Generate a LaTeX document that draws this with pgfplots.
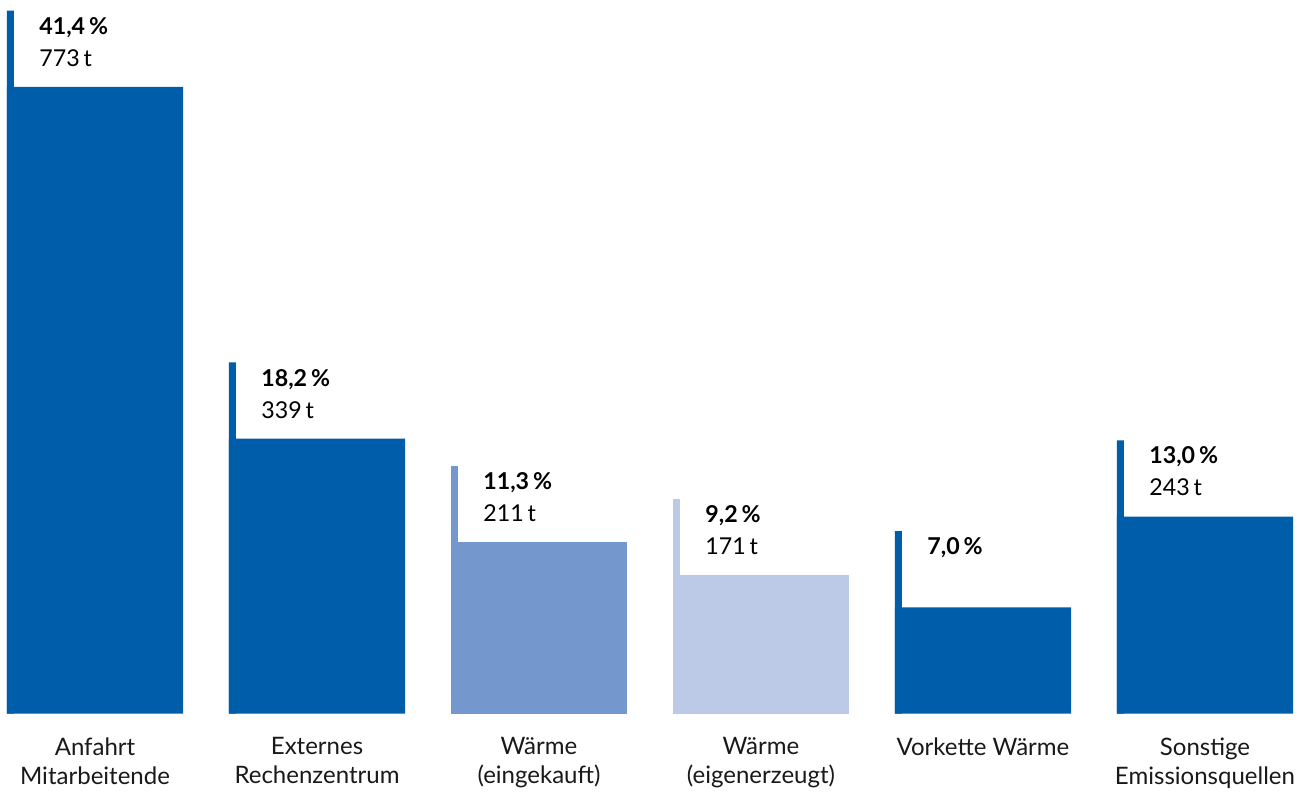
\documentclass[border=0pt]{standalone}
\usepackage{pgfplots}
\pgfplotsset{compat=1.18}
\usepackage{fontspec}
\setmainfont{Lato}
\definecolor{dblue}{HTML}{005DA9}
\definecolor{mblue}{HTML}{7497CE}
\definecolor{lblue}{HTML}{BCC9E7}
\begin{document}
\begin{tikzpicture}
\begin{axis}[
  name=ax,
  scale only axis,
  width=642.5pt, height=356.5pt,
  xmin=-0.3965, xmax=5.3965, ymin=0, ymax=880,
  enlargelimits=false,
  clip=false,
  axis x line*=bottom,
  axis y line=none,
  x axis line style={draw=none},
  xtick={0,1,2,3,4,5},
  xtick style={draw=none},
  xticklabels={{Anfahrt\\Mitarbeitende},{Externes\\Rechenzentrum},{Wärme\\(eingekauft)},{Wärme\\(eigenerzeugt)},{Vorkette Wärme},{Sonstige\\Emissionsquellen}},
  xticklabel style={anchor=north, inner sep=0pt, yshift=-7.5pt, align=center,
    font={\fontsize{12}{14.5}\selectfont}, text=black!90},
  ybar,
]
% thin marker lines (value + 94 t), drawn first
\addplot[draw=none, fill=dblue, bar width=3.5pt, bar shift=-42.25pt] coordinates {(0,867) (1,433) (4,225) (5,337)};
\addplot[draw=none, fill=mblue, bar width=3.5pt, bar shift=-42.25pt] coordinates {(2,305)};
\addplot[draw=none, fill=lblue, bar width=3.5pt, bar shift=-42.25pt] coordinates {(3,265)};
% main bars
\addplot[draw=none, fill=dblue, bar width=88pt, bar shift=0pt] coordinates {(0,773) (1,339) (4,131) (5,243)};
\addplot[draw=none, fill=mblue, bar width=88pt, bar shift=0pt] coordinates {(2,211)};
\addplot[draw=none, fill=lblue, bar width=88pt, bar shift=0pt] coordinates {(3,171)};
% labels
\tikzset{lab/.style={anchor=south west, inner sep=0pt, align=left, xshift=-28pt, yshift=10pt,
  font={\fontsize{11.6}{16}\selectfont}, text=black}}
\node[lab] at (axis cs:0,773) {\textbf{41,4\,\%}\\773\,t};
\node[lab] at (axis cs:1,339) {\textbf{18,2\,\%}\\339\,t};
\node[lab] at (axis cs:2,211) {\textbf{11,3\,\%}\\211\,t};
\node[lab] at (axis cs:3,171) {\textbf{9,2\,\%}\\171\,t};
\node[lab] at (axis cs:4,131) {\textbf{7,0\,\%}\\\phantom{0}};
\node[lab] at (axis cs:5,243) {\textbf{13,0\,\%}\\243\,t};
\end{axis}
\pgfresetboundingbox
\path ([xshift=-3.5pt,yshift=-39pt]ax.south west) rectangle ([xshift=2.5pt]ax.north east);
\end{tikzpicture}
\end{document}
